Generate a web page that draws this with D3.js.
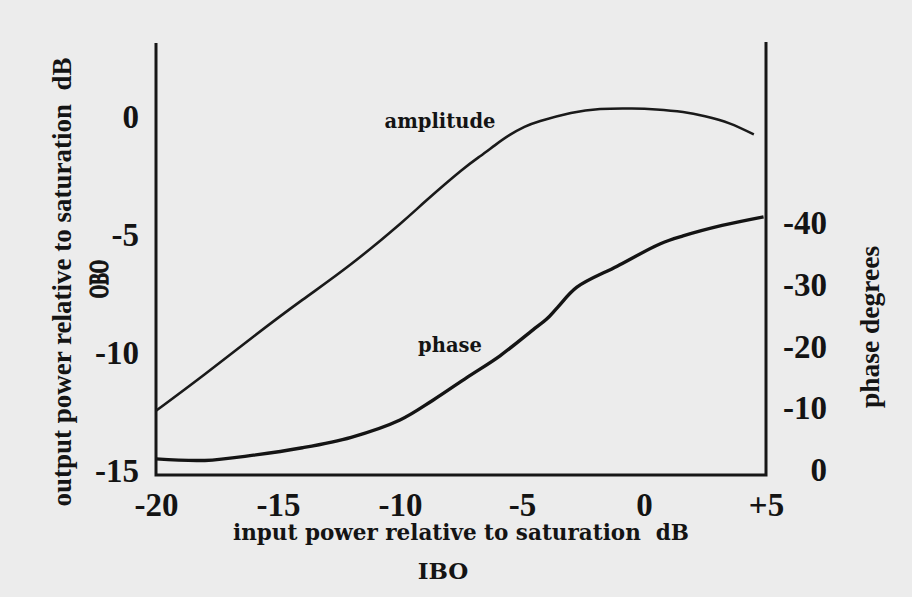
<!DOCTYPE html>
<html>
<head>
<meta charset="utf-8">
<script src="https://cdn.jsdelivr.net/npm/d3@7"></script>
<style>
  html, body { margin: 0; padding: 0; background: #ececec; }
  svg text { white-space: pre; fill: #141414; }
</style>
</head>
<body>
<div class="container"></div>
<script>
// values
const ampInput = [-20, -18, -16, -14, -12, -10, -8.9, -7.5, -6.7, -6.1, -5.5, -4.9, -4.25, -3, -1.8, -0.5, 0.5, 1.6, 2.5, 3.5, 4.5];
const ampOutput = [-12.45, -10.9, -9.3, -7.75, -6.23, -4.53, -3.52, -2.28, -1.65, -1.19, -0.76, -0.42, -0.17, 0.17, 0.34, 0.36, 0.32, 0.21, 0.03, -0.27, -0.74];

const phaseInput = [-20, -18, -16, -14, -12, -10, -8.65, -7.25, -5.9, -4.55, -4, -3.55, -2.75, -1.1, 0.65, 1.6, 3.2, 4.9];
const phaseDeg = [-1.8, -1.55, -2.4, -3.6, -5.3, -8.1, -11.3, -15.0, -18.5, -22.7, -24.4, -26.3, -29.6, -33.0, -36.6, -37.9, -39.6, -41.0];

const xTicks = [-20, -15, -10, -5, 0, 5];
const leftTicks = [0, -5, -10, -15];
const rightTicks = [0, -10, -20, -30, -40];

const width = 912;
const height = 597;
const plotTop = 43;
const plotBottom = 475;

const svg = d3
  .select('.container')
  .append('svg')
  .attr('width', width)
  .attr('height', height);

const x = d3.scaleLinear().domain([-20, 5]).range([156, 766]);
const yLeft = d3.scaleLinear().domain([-15, 0]).range([471, 117]);
const yRight = d3.scaleLinear().domain([0, -40]).range([470, 223]);

const tickFont = '"Liberation Serif", "Times New Roman", serif';
const wordFont = '"DejaVu Serif", serif';
// plain hyphen for negatives, as printed
const fmt = (d) => (d > 0 ? '+' + d : String(d));

// axes frame (left, bottom, right)
svg
  .append('path')
  .attr('fill', 'none')
  .attr('stroke', '#161616')
  .attr('stroke-width', 3)
  .attr('d', `M${x(-20)},${plotTop}V${plotBottom}H${x(5)}V${plotTop - 1}`);

// bottom tick labels
const xAxis = svg
  .append('g')
  .attr('transform', `translate(0,${plotBottom})`)
  .call(d3.axisBottom(x).tickValues(xTicks).tickSize(0).tickFormat(fmt));
xAxis.select('.domain').remove();
xAxis
  .selectAll('text')
  .attr('y', 41)
  .attr('dy', null)
  .attr('font-family', tickFont)
  .attr('font-weight', 'bold')
  .attr('font-size', 33);

// left tick labels
const leftAxis = svg
  .append('g')
  .attr('transform', `translate(${x(-20)},0)`)
  .call(d3.axisLeft(yLeft).tickValues(leftTicks).tickSize(0).tickPadding(17).tickFormat(fmt));
leftAxis.select('.domain').remove();
leftAxis.selectAll('text').attr('font-family', tickFont).attr('font-weight', 'bold').attr('font-size', 33);

// right tick labels
const rightAxis = svg
  .append('g')
  .attr('transform', `translate(${x(5)},0)`)
  .call(d3.axisRight(yRight).tickValues(rightTicks).tickSize(0).tickFormat(fmt));
rightAxis.select('.domain').remove();
rightAxis
  .selectAll('text')
  .attr('text-anchor', 'end')
  .attr('x', 61)
  .attr('font-family', tickFont)
  .attr('font-weight', 'bold')
  .attr('font-size', 33);

svg.selectAll('.tick text').attr('fill', '#141414');

// curves
const ampLine = d3
  .line()
  .x((d) => x(d[0]))
  .y((d) => yLeft(d[1]))
  .curve(d3.curveNatural);

const phaseLine = d3
  .line()
  .x((d) => x(d[0]))
  .y((d) => yRight(d[1]))
  .curve(d3.curveCatmullRom.alpha(0.5));

svg
  .append('path')
  .datum(d3.zip(ampInput, ampOutput))
  .attr('fill', 'none')
  .attr('stroke', '#1a1a1a')
  .attr('stroke-width', 2.6)
  .attr('d', ampLine);

svg
  .append('path')
  .datum(d3.zip(phaseInput, phaseDeg))
  .attr('fill', 'none')
  .attr('stroke', '#141414')
  .attr('stroke-width', 3.4)
  .attr('d', phaseLine);

// curve labels
svg.append('text').attr('x', 440).attr('y', 128).attr('text-anchor', 'middle')
  .attr('font-family', wordFont).attr('font-weight', 'bold').attr('font-size', 19.5).text('amplitude');
svg.append('text').attr('x', 450).attr('y', 352).attr('text-anchor', 'middle')
  .attr('font-family', wordFont).attr('font-weight', 'bold').attr('font-size', 19.5).text('phase');

// axis titles
svg.append('text').attr('x', 461).attr('y', 540).attr('text-anchor', 'middle')
  .attr('font-family', wordFont).attr('font-weight', 'bold').attr('font-size', 21.5)
  .text('input power relative to saturation  dB');
svg.append('text').attr('x', 443).attr('y', 579).attr('text-anchor', 'middle')
  .attr('font-family', wordFont).attr('font-weight', 'bold').attr('font-size', 23).text('IBO');

svg.append('text').attr('transform', 'translate(71,282) rotate(-90)').attr('text-anchor', 'middle')
  .attr('font-family', tickFont).attr('font-weight', 'bold').attr('font-size', 27)
  .text('output power relative to saturation  dB');
svg.append('text').attr('transform', 'translate(108,279) rotate(-90) scale(0.64,1)').attr('text-anchor', 'middle')
  .attr('font-family', tickFont).attr('font-weight', 'bold').attr('font-size', 27)
  .attr('stroke', '#141414').attr('stroke-width', 1.2)
  .text('OBO');

svg.append('text').attr('transform', 'translate(879,327) rotate(-90)').attr('text-anchor', 'middle')
  .attr('font-family', tickFont).attr('font-weight', 'bold').attr('font-size', 27.5)
  .text('phase degrees');
</script>
</body>
</html>
